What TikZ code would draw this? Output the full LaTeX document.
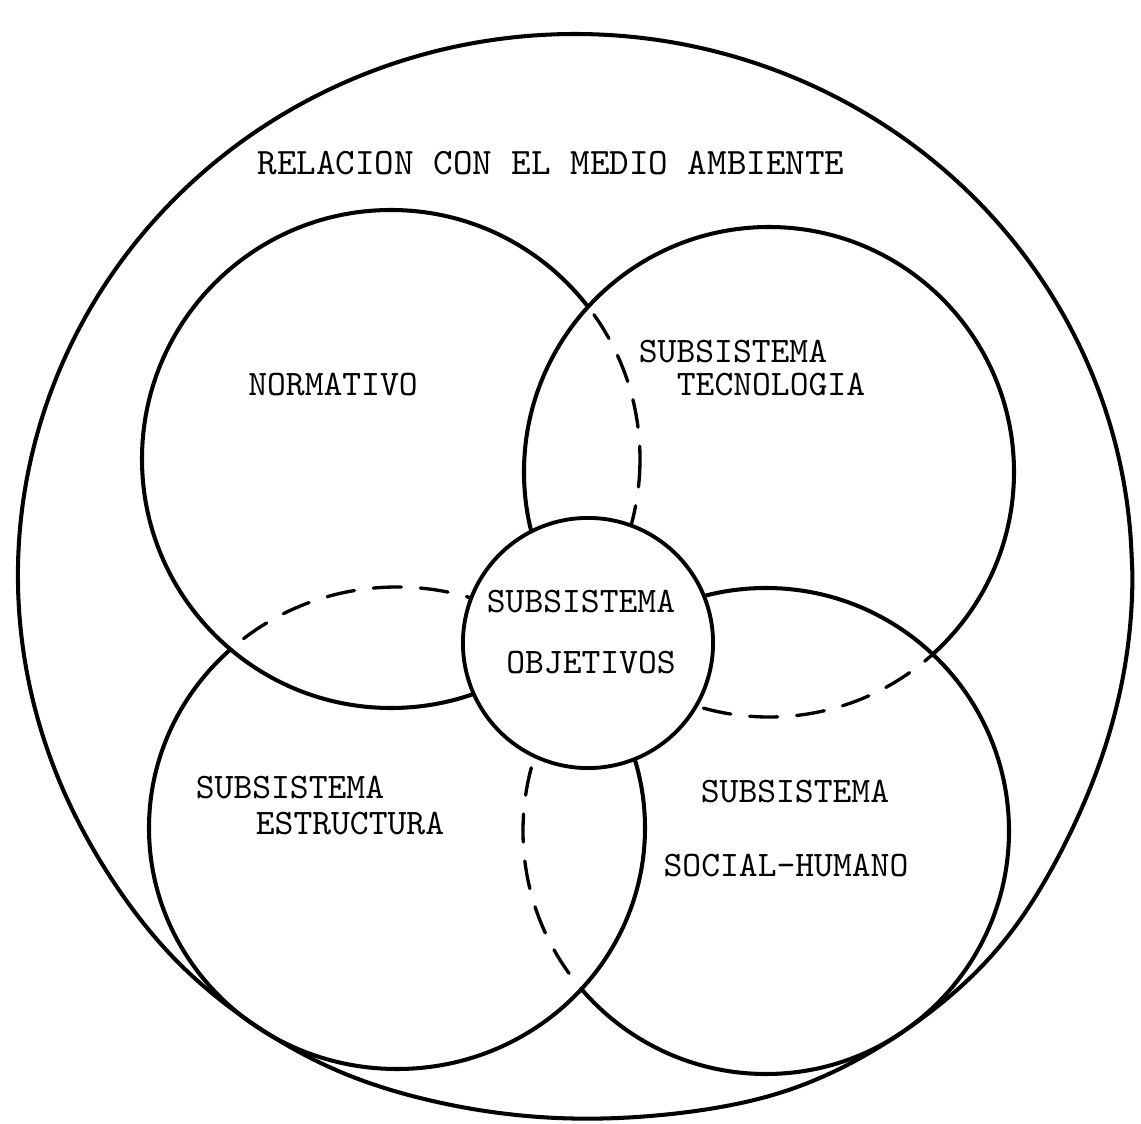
\documentclass[tikz,border=0pt]{standalone}
\usepackage{fontspec}
\begin{document}
\begin{tikzpicture}[x=0.01cm,y=-0.01cm,
  outline/.style={line width=1.15pt, line cap=round, line join=round},
  hidden/.style={line width=0.95pt, line cap=round, dash pattern=on 0.28cm off 0.19cm},
  lbl/.style={font=\ttfamily\fontsize{10.2}{12}\selectfont, inner sep=0pt},
  declare function={
    bulge(\t)=16/(1+min(((\t-55)/22)^2,60)^2)+6/(1+min(((\t-125)/18)^2,60)^2);
  }]
\useasboundingbox (0,0) rectangle (1141,1124);

% centres of the four subsystem circles
\coordinate (cTL) at (391,459);
\coordinate (cTR) at (769,472);
\coordinate (cBL) at (397,828);
\coordinate (cBR) at (766,831);

% environment: a near-ellipse, slightly fuller where it wraps the lower circles
\draw[outline] plot[variable=\t, domain=0:358, samples=180, smooth cycle]
  ({575+(557+bulge(\t))*cos(\t)}, {575+(541+bulge(\t))*sin(\t)});

% each circle passes under its clockwise neighbour: solid outside it, dashed inside it
% normativo (under tecnologia)
\begin{scope}[even odd rule]
  \clip (-50,-50) rectangle (1200,1200) (cTR) circle[radius=245];
  \draw[outline] (cTL) circle[radius=249];
\end{scope}
\begin{scope}
  \clip (cTR) circle[radius=245];
  \draw[hidden] (cTL) circle[radius=249];
\end{scope}
% tecnologia (under social-humano)
\begin{scope}[even odd rule]
  \clip (-50,-50) rectangle (1200,1200) (cBR) circle[radius=243];
  \draw[outline] (cTR) circle[radius=245];
\end{scope}
\begin{scope}
  \clip (cBR) circle[radius=243];
  \draw[hidden] (cTR) circle[radius=245];
\end{scope}
% social-humano (under estructura)
\begin{scope}[even odd rule]
  \clip (-50,-50) rectangle (1200,1200) (cBL) ellipse[x radius=248, y radius=241];
  \draw[outline] (cBR) circle[radius=243];
\end{scope}
\begin{scope}
  \clip (cBL) ellipse[x radius=248, y radius=241];
  \draw[hidden] (cBR) circle[radius=243];
\end{scope}
% estructura (under normativo)
\begin{scope}[even odd rule]
  \clip (-50,-50) rectangle (1200,1200) (cTL) circle[radius=249];
  \draw[outline] (cBL) ellipse[x radius=248, y radius=241];
\end{scope}
\begin{scope}
  \clip (cTL) circle[radius=249];
  \draw[hidden] (cBL) ellipse[x radius=248, y radius=241];
\end{scope}

% objectives in the middle, on top of everything
\node (obj) [circle, draw, line width=1.1pt, fill=white, minimum size=2.5cm, inner sep=0pt] at (588,643) {};

% labels
\node[lbl, font=\ttfamily\fontsize{10.6}{12}\selectfont] (env) at (551,163) {RELACION CON EL MEDIO AMBIENTE};
\node[lbl] (norm) at (333,385) {NORMATIVO};
\node[lbl] (tec1) at (733,352) {SUBSISTEMA};
\node[lbl] (tec2) at (771,385) {TECNOLOGIA};
\node[lbl] (obj1) at (581,602) {SUBSISTEMA};
\node[lbl] (obj2) at (591,663) {OBJETIVOS};
\node[lbl] (est1) at (290,788) {SUBSISTEMA};
\node[lbl] (est2) at (350,824) {ESTRUCTURA};
\node[lbl] (soc1) at (795,792) {SUBSISTEMA};
\node[lbl] (soc2) at (786,866) {SOCIAL-HUMANO};
\end{tikzpicture}
\end{document}
